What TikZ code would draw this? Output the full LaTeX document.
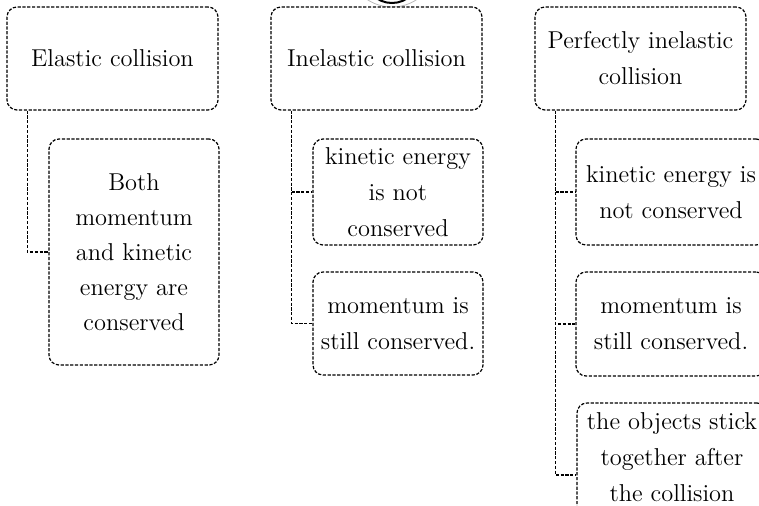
\documentclass[tikz,border=0pt]{standalone}
\begin{document}
\begin{tikzpicture}[x=0.5pt,y=-0.5pt,
  box/.style={draw, rounded corners=5pt, dash pattern=on 1.6pt off 0.8pt, line width=0.6pt,
    align=center, inner sep=0pt, font=\fontsize{12.2pt}{18pt}\selectfont},
  conn/.style={draw, dash pattern=on 1.6pt off 0.8pt, line width=0.6pt}]
\useasboundingbox (0,0) rectangle (759,505);
% partly visible root mark
\node[circle, draw=gray!55, line width=0.4pt, minimum size=45pt, inner sep=0pt] (root) at (392,-38) {};
\node[circle, draw=black, line width=1pt, minimum size=27.5pt, inner sep=0pt] (rootmark) at (392,-24.5) {};
% top level
\node[box, minimum width=105.5pt, minimum height=51.5pt] (e1) at (112.5,58.5) {Elastic collision};
\node[box, minimum width=105.5pt, minimum height=51.5pt] (i1) at (376.5,58.5) {Inelastic collision};
\node[box, minimum width=105.5pt, minimum height=51.5pt] (p1) at (640.5,58.5) {Perfectly inelastic\\collision};
% children
\node[box, minimum width=85pt, minimum height=113pt, font=\fontsize{12.2pt}{17.5pt}\selectfont] (e2) at (134,252) {Both\\momentum\\and kinetic\\energy are\\conserved};
\node[box, minimum width=85pt, minimum height=53pt] (i2) at (398,192) {kinetic energy\\is not\\conserved};
\node[box, minimum width=85pt, minimum height=51.5pt] (i3) at (398,323.5) {momentum is\\still conserved.};
\node[box, minimum width=95pt, minimum height=53pt] (p2) at (671,192) {kinetic energy is\\not conserved};
\node[box, minimum width=95pt, minimum height=52pt] (p3) at (671,324) {momentum is\\still conserved.};
\node[box, minimum width=95pt, minimum height=72pt] (p4) at (672,475) {the objects stick\\together after\\the collision\\\mbox{}};
% connectors
\draw[conn] ([xshift=10.5pt]e1.south west) |- (e2.west);
\draw[conn] ([xshift=10.5pt]i1.south west) |- (i2.west);
\draw[conn] ([xshift=10.5pt]i1.south west) |- (i3.west);
\draw[conn] ([xshift=10.5pt]p1.south west) |- (p2.west);
\draw[conn] ([xshift=10.5pt]p1.south west) |- (p3.west);
\draw[conn] ([xshift=10.5pt]p1.south west) |- (p4.west);
\end{tikzpicture}
\end{document}
